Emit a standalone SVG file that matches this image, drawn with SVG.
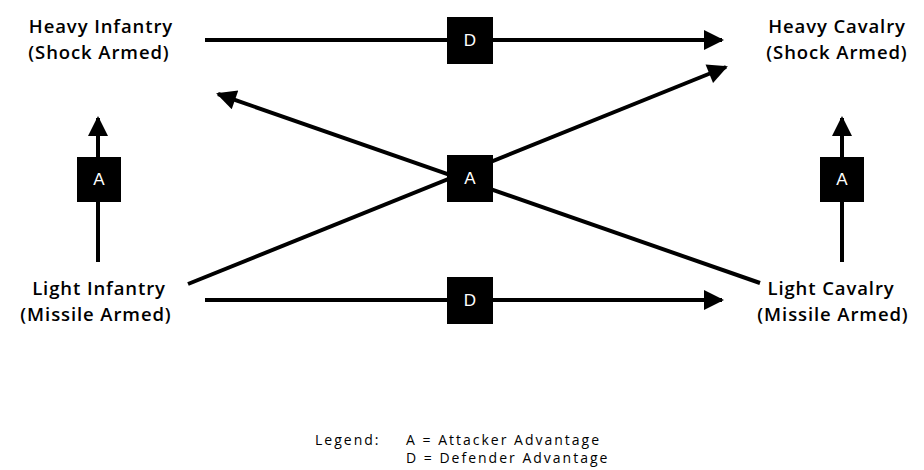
<svg xmlns="http://www.w3.org/2000/svg" width="924" height="470" viewBox="0 0 924 470">
<style>
.lbl{font-family:"Open Sans","Liberation Sans",sans-serif;font-size:18.5px;font-weight:600;fill:#000;text-anchor:middle;letter-spacing:0.9px}
.ln{stroke:#000;stroke-width:4;fill:none}
.box{fill:#000}
.bt{font-family:"Liberation Sans",sans-serif;font-size:17px;fill:#fff;text-anchor:middle}
.leg{font-family:"Open Sans","Liberation Sans",sans-serif;font-size:14px;fill:#000;letter-spacing:2px}
</style>
<defs>
<marker id="ah" viewBox="0 0 10 10" refX="9" refY="5" markerWidth="5.5" markerHeight="5" markerUnits="strokeWidth" orient="auto">
<path d="M0,0 L10,5 L0,10 Z" fill="#000"/>
</marker>
</defs>
<rect width="924" height="470" fill="#fff"/>
<g id="connectors">
<line class="ln" x1="205" y1="40" x2="722" y2="40" marker-end="url(#ah)"/>
<line class="ln" x1="205" y1="300" x2="722" y2="300" marker-end="url(#ah)"/>
<line class="ln" x1="98" y1="262" x2="98" y2="118" marker-end="url(#ah)"/>
<line class="ln" x1="842" y1="262" x2="842" y2="118" marker-end="url(#ah)"/>
<line class="ln" x1="188" y1="284" x2="726" y2="67" marker-end="url(#ah)"/>
<line class="ln" x1="760" y1="283" x2="218" y2="94" marker-end="url(#ah)"/>
</g>
<g id="badge-top"><rect class="box" x="447" y="17" width="46" height="47"/><text class="bt" x="470" y="46">D</text></g>
<g id="badge-bottom"><rect class="box" x="447" y="277" width="46" height="47"/><text class="bt" x="470" y="306">D</text></g>
<g id="badge-left"><rect class="box" x="77" y="157" width="44" height="45"/><text class="bt" x="99" y="185">A</text></g>
<g id="badge-right"><rect class="box" x="820" y="157" width="44" height="45"/><text class="bt" x="842" y="185">A</text></g>
<g id="badge-center"><rect class="box" x="447" y="155" width="46" height="47"/><text class="bt" x="470" y="184">A</text></g>
<g id="heavy-infantry"><text class="lbl" x="101" y="33">Heavy Infantry</text><text class="lbl" x="99" y="59">(Shock Armed)</text></g>
<g id="heavy-cavalry"><text class="lbl" x="837" y="33">Heavy Cavalry</text><text class="lbl" x="837" y="59">(Shock Armed)</text></g>
<g id="light-infantry"><text class="lbl" x="99" y="295">Light Infantry</text><text class="lbl" x="96" y="321">(Missile Armed)</text></g>
<g id="light-cavalry"><text class="lbl" x="831" y="295">Light Cavalry</text><text class="lbl" x="833" y="321">(Missile Armed)</text></g>
<g id="legend">
<text class="leg" x="315" y="445">Legend:</text>
<text class="leg" x="406" y="445">A = Attacker Advantage</text>
<text class="leg" x="406" y="463">D = Defender Advantage</text>
</g>
</svg>
